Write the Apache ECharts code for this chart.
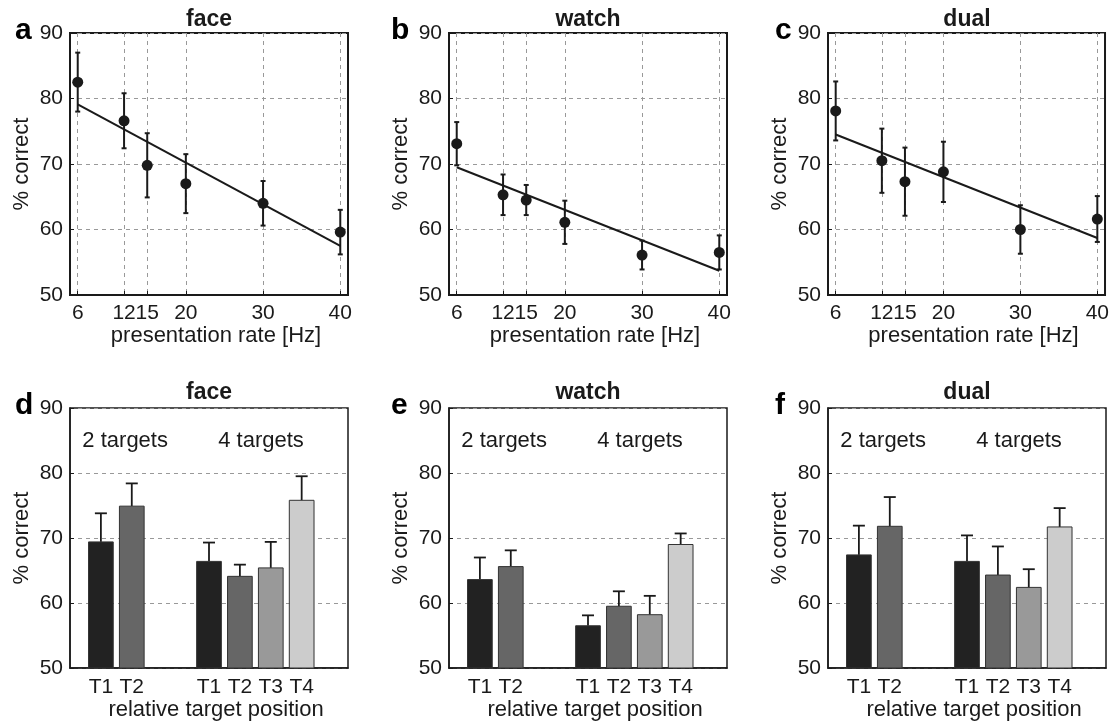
<!DOCTYPE html>
<html>
<head>
<meta charset="utf-8">
<script src="https://cdn.jsdelivr.net/npm/echarts@6/dist/echarts.min.js"></script>
<style>
  html, body { margin: 0; padding: 0; background: #fff; }
  #main { width: 1112px; height: 722px; }
</style>
</head>
<body>
<div id="main"></div>
<script>
// data
var rates = [6, 12, 15, 20, 30, 40];
var faceRate = [82.5, 76.6, 69.8, 67.0, 64.0, 59.6];
var faceRateErr = [4.5, 4.2, 4.9, 4.5, 3.4, 3.4];
var faceFit = [79.1, 57.5];
var watchRate = [73.1, 65.3, 64.5, 61.1, 56.1, 56.5];
var watchRateErr = [3.3, 3.1, 2.3, 3.3, 2.2, 2.6];
var watchFit = [69.5, 53.7];
var dualRate = [78.1, 70.5, 67.3, 68.8, 60.0, 61.6];
var dualRateErr = [4.5, 4.9, 5.2, 4.6, 3.7, 3.5];
var dualFit = [74.5, 58.7];

var targetPos = [1, 2, 4.5, 5.5, 6.5, 7.5];
var targetLabels = ['T1', 'T2', 'T1', 'T2', 'T3', 'T4'];
var groupNames = ['2 targets', '4 targets'];
var faceBars = [69.4, 74.9, 66.4, 64.1, 65.4, 75.8];
var faceBarErr = [4.4, 3.5, 2.9, 1.8, 4.0, 3.7];
var watchBars = [63.6, 65.6, 56.5, 59.5, 58.2, 69.0];
var watchBarErr = [3.4, 2.5, 1.6, 2.3, 2.9, 1.7];
var dualBars = [67.4, 71.8, 66.4, 64.3, 62.4, 71.7];
var dualBarErr = [4.5, 4.5, 4.0, 4.4, 2.8, 2.9];

var titles = ['face', 'watch', 'dual'];
var letters = ['a', 'b', 'c', 'd', 'e', 'f'];

var FONT = 'Liberation Sans';
var INK = '#1a1a1a';
var barColors = ['#222222', '#666666', '#222222', '#666666', '#999999', '#cccccc'];
var lefts = [70, 449, 828];
var gridW = 278;

var chart = echarts.init(document.getElementById('main'));

var grids = [], xAxes = [], yAxes = [], series = [], titleList = [], graphics = [];

function dashed() {
    return { show: true, lineStyle: { color: '#999', type: [4, 4], width: 1 } };
}

function yAxisFor(i) {
    return {
        type: 'value', gridIndex: i, min: 50, max: 90, interval: 10,
        name: '% correct', nameLocation: 'middle', nameGap: 37,
        nameTextStyle: { fontFamily: FONT, fontSize: 22, color: INK },
        axisLine: { show: true, lineStyle: { color: INK, width: i < 3 ? 2 : 1.5 } },
        axisTick: { show: true, inside: true, length: 4, lineStyle: { color: INK } },
        axisLabel: { fontFamily: FONT, fontSize: 21, color: INK, margin: 7 },
        splitLine: dashed()
    };
}

// 误差棒: [x, low, high]
function errRender(capW, lw, bothCaps) {
    return function (params, api) {
        var x = api.value(0);
        var lo = api.coord([x, api.value(1)]);
        var hi = api.coord([x, api.value(2)]);
        var st = { stroke: INK, lineWidth: lw };
        var kids = [
            { type: 'line', shape: { x1: lo[0], y1: lo[1], x2: hi[0], y2: hi[1] }, style: st },
            { type: 'line', shape: { x1: hi[0] - capW, y1: hi[1], x2: hi[0] + capW, y2: hi[1] }, style: st }
        ];
        if (bothCaps) {
            kids.push({ type: 'line', shape: { x1: lo[0] - capW, y1: lo[1], x2: lo[0] + capW, y2: lo[1] }, style: st });
        }
        return { type: 'group', children: kids };
    };
}

function barRender(params, api) {
    var x = api.value(0), v = api.value(1), e = api.value(2);
    var base = api.coord([x, 50]);
    var top = api.coord([x, v]);
    var errTop = api.coord([x, v + e]);
    var w = api.size([0.8, 0])[0];
    var st = { stroke: INK, lineWidth: 1.8 };
    return {
        type: 'group',
        children: [
            { type: 'line', shape: { x1: top[0], y1: top[1], x2: errTop[0], y2: errTop[1] }, style: st },
            { type: 'line', shape: { x1: errTop[0] - 6, y1: errTop[1], x2: errTop[0] + 6, y2: errTop[1] }, style: st },
            {
                type: 'rect',
                shape: { x: top[0] - w / 2, y: top[1], width: w, height: base[1] - top[1] },
                style: { fill: barColors[params.dataIndex], stroke: '#333', lineWidth: 1 }
            }
        ]
    };
}

// 上排: 呈现速率
var rateSets = [[faceRate, faceRateErr, faceFit], [watchRate, watchRateErr, watchFit], [dualRate, dualRateErr, dualFit]];
rateSets.forEach(function (set, i) {
    var vals = set[0], errs = set[1], fit = set[2];
    grids.push({ left: lefts[i], top: 33, width: gridW, height: 262, show: true, borderColor: INK, borderWidth: 2, backgroundColor: 'transparent' });
    xAxes.push({
        type: 'value', gridIndex: i, min: 5, max: 41,
        name: 'presentation rate [Hz]', nameLocation: 'middle', nameGap: 29,
        nameTextStyle: { fontFamily: FONT, fontSize: 22, color: INK, padding: [0, 0, 0, 14] },
        axisLine: { show: true, lineStyle: { color: INK, width: 2 } },
        axisTick: { show: true, inside: true, length: 4, customValues: rates, lineStyle: { color: INK } },
        axisLabel: { fontFamily: FONT, fontSize: 21, color: INK, margin: 8, customValues: rates },
        splitLine: dashed()
    });
    yAxes.push(yAxisFor(i));
    series.push({
        type: 'line', xAxisIndex: i, yAxisIndex: i, symbol: 'none', silent: true,
        lineStyle: { color: INK, width: 2 },
        data: [[rates[0], fit[0]], [rates[rates.length - 1], fit[1]]]
    });
    series.push({
        type: 'custom', xAxisIndex: i, yAxisIndex: i, renderItem: errRender(2.5, 2, true),
        encode: { x: 0, y: [1, 2] },
        data: rates.map(function (r, k) { return [r, vals[k] - errs[k], vals[k] + errs[k]]; })
    });
    series.push({
        type: 'scatter', xAxisIndex: i, yAxisIndex: i, symbolSize: 11,
        itemStyle: { color: INK, opacity: 1 },
        data: rates.map(function (r, k) { return [r, vals[k]]; })
    });
    titleList.push({
        text: titles[i], left: lefts[i] + gridW / 2, top: 8, textAlign: 'center', padding: 0,
        textStyle: { fontFamily: FONT, fontSize: 23, fontWeight: 'bold', color: INK }
    });
});

// 下排: 相对目标位置
var barSets = [[faceBars, faceBarErr], [watchBars, watchBarErr], [dualBars, dualBarErr]];
barSets.forEach(function (set, j) {
    var i = j + 3;
    var vals = set[0], errs = set[1];
    grids.push({ left: lefts[j], top: 408, width: gridW, height: 261, show: true, borderColor: INK, borderWidth: 1.5, backgroundColor: 'transparent' });
    xAxes.push({
        type: 'value', gridIndex: i, min: 0, max: 9,
        name: 'relative target position', nameLocation: 'middle', nameGap: 31,
        nameTextStyle: { fontFamily: FONT, fontSize: 22, color: INK, padding: [0, 0, 0, 14] },
        axisLine: { show: true, lineStyle: { color: INK, width: 1.5 } },
        axisTick: { show: false },
        axisLabel: {
            fontFamily: FONT, fontSize: 21, color: INK, margin: 9, customValues: targetPos,
            formatter: function (v) { return targetLabels[targetPos.indexOf(v)]; }
        },
        splitLine: { show: false }
    });
    yAxes.push(yAxisFor(i));
    series.push({
        type: 'custom', xAxisIndex: i, yAxisIndex: i, renderItem: barRender,
        encode: { x: 0, y: 1 },
        data: targetPos.map(function (p, k) { return [p, vals[k], errs[k]]; })
    });
    series.push({
        type: 'scatter', xAxisIndex: i, yAxisIndex: i, symbolSize: 0, silent: true,
        itemStyle: { opacity: 1 },
        label: {
            show: true, position: 'right', distance: 0, opacity: 1,
            fontFamily: FONT, fontSize: 22, color: INK,
            formatter: function (p) { return p.data[2]; }
        },
        data: [[0.4, 85, groupNames[0]], [4.8, 85, groupNames[1]]]
    });
    titleList.push({
        text: titles[j], left: lefts[j] + gridW / 2, top: 381, textAlign: 'center', padding: 0,
        textStyle: { fontFamily: FONT, fontSize: 23, fontWeight: 'bold', color: INK }
    });
});

// 面板字母
var letterX = [15, 391, 775];
letters.forEach(function (l, k) {
    graphics.push({
        type: 'text', left: letterX[k % 3], top: k < 3 ? 16 : 391,
        style: { text: l, fontFamily: FONT, fontSize: 30, fontWeight: 'bold', fill: '#000' }
    });
});

chart.setOption({
    animation: false,
    title: titleList,
    grid: grids,
    xAxis: xAxes,
    yAxis: yAxes,
    series: series,
    graphic: graphics
});
</script>
</body>
</html>
